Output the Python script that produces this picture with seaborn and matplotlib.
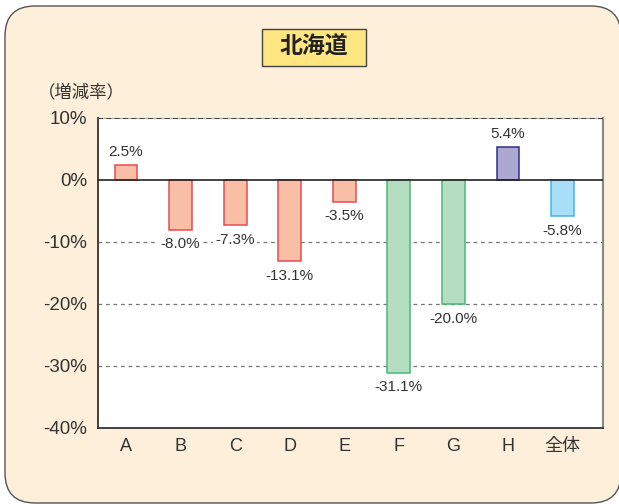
import matplotlib
matplotlib.use("Agg")
import matplotlib.pyplot as plt
from matplotlib.patches import FancyBboxPatch, Rectangle
from matplotlib.transforms import IdentityTransform
import seaborn as sns
import pandas as pd

# Rate of change by category (%)
categories = ["A", "B", "C", "D", "E", "F", "G", "H", "全体"]
values = [2.5, -8.0, -7.3, -13.1, -3.5, -31.1, -20.0, 5.4, -5.8]
groups = ["r", "r", "r", "r", "r", "g", "g", "p", "b"]
y_ticks = [10, 0, -10, -20, -30, -40]
title = "北海道"
y_label = "（増減率）"

fills = {"r": "#F9BEA6", "g": "#B4DDC2", "p": "#ACA8D2", "b": "#A9DEF8"}
edges = {"r": "#E84A52", "g": "#45BC73", "p": "#2E3088", "b": "#45B5E6"}

sns.set_theme(style="white")
plt.rcParams["font.family"] = ["Liberation Sans", "Noto Sans CJK JP"]

W, H = 619, 504
fig = plt.figure(figsize=(W / 100, H / 100), dpi=100)
fig.patch.set_facecolor("white")

# Rounded cream panel behind everything
panel = FancyBboxPatch((5, H - 503), 616, 497,
                       boxstyle="round,pad=0,rounding_size=30",
                       transform=IdentityTransform(),
                       facecolor="#FDEFD9", edgecolor="#555555", linewidth=1.0,
                       zorder=-5)
fig.patches.append(panel)

ax = fig.add_axes([98 / W, (H - 428) / H, 505 / W, 310 / H])
ax.set_zorder(1)
ax.set_facecolor("white")

df = pd.DataFrame({"category": categories, "value": values, "group": groups})
palette = {c: fills[g] for c, g in zip(categories, groups)}
sns.barplot(data=df, x="category", y="value", hue="category", palette=palette,
            order=categories, width=0.42, legend=False, saturation=1, ax=ax,
            zorder=2)

for patch, g in zip(ax.patches, groups):
    patch.set_edgecolor(edges[g])
    patch.set_linewidth(1.1)

# Value labels on a white backing so the grid does not run through them
label_box = dict(boxstyle="square,pad=0.15", facecolor="white", edgecolor="none")
for i, v in enumerate(values):
    if v >= 0:
        ax.annotate(f"{v:.1f}%", (i, v), xytext=(0, 4), textcoords="offset points",
                    ha="center", va="bottom", fontsize=11, color="#333333",
                    bbox=label_box, zorder=5)
    else:
        ax.annotate(f"{v:.1f}%", (i, v), xytext=(0, -5.5), textcoords="offset points",
                    ha="center", va="top", fontsize=11, color="#333333",
                    bbox=label_box, zorder=5)

ax.set_xlim(-0.513, 8.74)
ax.set_ylim(-40, 10)
ax.set_yticks(y_ticks)
ax.set_yticklabels([f"{t}%" for t in y_ticks])
ax.set_xlabel("")
ax.set_ylabel("")

for y in [-10, -20, -30]:
    ax.axhline(y, color="#777777", linestyle=(0, (3, 3)), linewidth=0.9, zorder=1)
ax.axhline(10, color="#333333", linestyle=(0, (3, 2)), linewidth=1.2, zorder=4)
ax.axhline(0, color="#222222", linewidth=1.2, zorder=4)

ax.tick_params(axis="y", length=0, pad=8, labelsize=13.5, colors="#333333")
ax.tick_params(axis="x", length=0, pad=7, labelsize=13, colors="#333333")

ax.spines["left"].set_color("#333333")
ax.spines["left"].set_linewidth(1.3)
ax.spines["bottom"].set_color("#333333")
ax.spines["bottom"].set_linewidth(1.3)
ax.spines["right"].set_color("#888888")
ax.spines["right"].set_linewidth(1.5)
ax.spines["top"].set_color("#aaaaaa")
ax.spines["top"].set_linewidth(0.8)

# Title box
fig.patches.append(Rectangle((262, H - 66), 104, 37, transform=IdentityTransform(),
                             facecolor="#FFE680", edgecolor="#444444",
                             linewidth=1.0, zorder=1))
fig.text(314 / W, (H - 47.5) / H, title, ha="center", va="center",
         fontsize=16.5, fontweight="bold", color="#222222", zorder=2)

fig.text(38 / W, (H - 92) / H, y_label, ha="left", va="center",
         fontsize=12.5, color="#333333")

fig.savefig("out.png", dpi=100)
